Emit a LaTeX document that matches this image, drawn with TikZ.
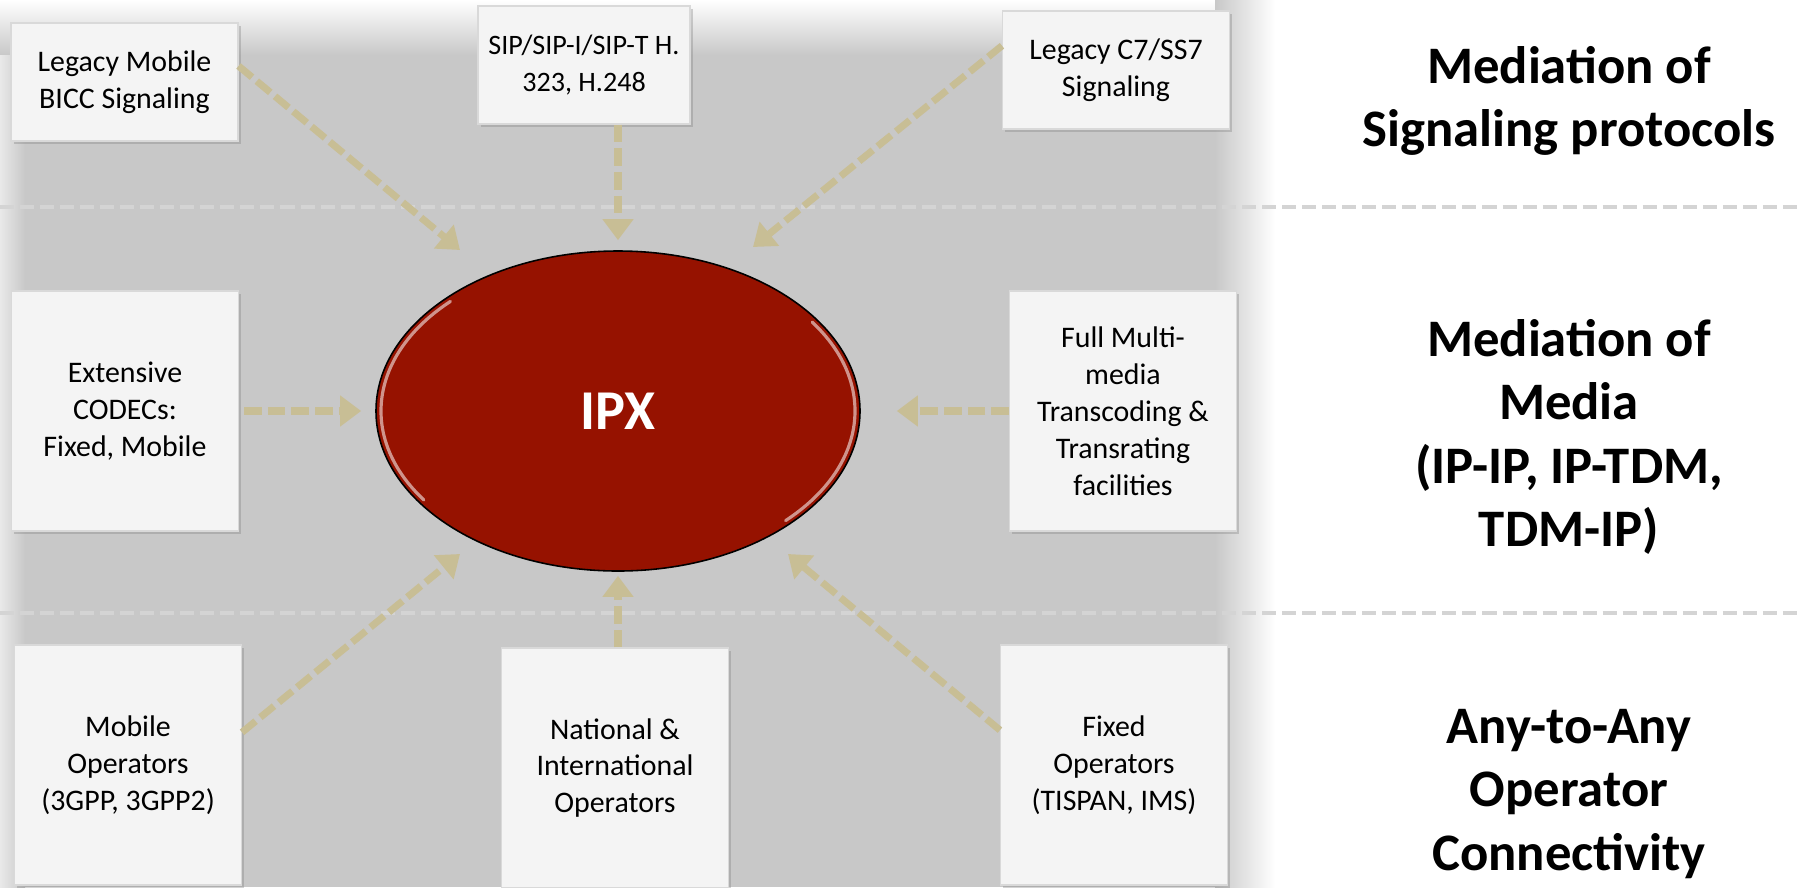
\documentclass[tikz,border=0pt]{standalone}
\usepackage{fontspec}
\setmainfont{Carlito}
\usetikzlibrary{arrows.meta, positioning, shapes.geometric, shadows}
\definecolor{IPXRED}{HTML}{961200}
\definecolor{ARRTAN}{HTML}{C8BE95}
\definecolor{BGGREY}{HTML}{C8C8C8}
\definecolor{SEPGREY}{HTML}{D4D4D4}
\definecolor{BOXFILL}{HTML}{F4F4F4}

\begin{document}
\begin{tikzpicture}[
        box/.style={fill=BOXFILL, draw=white!85!black, line width=0.6pt,
                    minimum width=4.54cm, minimum height=4.80cm, align=center,
                    font=\fontsize{17}{21}\selectfont, inner sep=2pt,
                    drop shadow={opacity=0.35, shadow xshift=1.5pt, shadow yshift=-1.5pt}},
        topbox/.style={box, minimum height=2.36cm},
        hub/.style={ellipse, fill=IPXRED, draw=black, line width=0.9pt,
                    minimum width=9.68cm, minimum height=6.40cm, inner sep=0pt,
                    text=white, font=\bfseries\fontsize{32}{38}\selectfont},
        shine/.style={white, opacity=0.55, line width=1.8pt, line cap=round},
        arr/.style={-{Triangle[length=12pt, width=17pt]}, line width=4pt, color=ARRTAN,
                    dash pattern=on 10pt off 3.5pt},
        sep/.style={SEPGREY, line width=2.3pt, dash pattern=on 8pt off 3.4pt},
        layer/.style={align=center, font=\bfseries\fontsize{30}{36}\selectfont}
      ]
        \useasboundingbox (0,0) rectangle (36.04,-17.74);
        % grey panel behind the diagram
        \fill[BGGREY] (0,-1.1) rectangle (24.3,-17.74);
        \shade[top color=white, bottom color=BGGREY] (0,0) rectangle (24.3,-1.1);
        \shade[left color=BGGREY, right color=white] (24.3,0) rectangle (25.5,-17.74);
        \shade[left color=white!60!BGGREY, right color=BGGREY] (0,-1.1) rectangle (0.5,-17.74);
        \draw[sep] (0,-4.14) -- (36.04,-4.14);
        \draw[sep] (0,-12.26) -- (36.04,-12.26);

        \node[hub] (ipx) at (12.36,-8.22) {IPX};
        % glossy rim on the two sides
        \draw[shine] (ipx.center) ++(135:4.74cm and 3.10cm) arc[start angle=135, end angle=215, x radius=4.74cm, y radius=3.10cm];
        \draw[shine] (ipx.center) ++(-45:4.74cm and 3.10cm) arc[start angle=-45, end angle=35, x radius=4.74cm, y radius=3.10cm];

        \node[topbox] (sig1) at (2.49,-1.64)  {Legacy Mobile\\BICC Signaling};
        \node[topbox, minimum width=4.24cm, font=\fontsize{16}{21}\selectfont] (sig2) at (11.68,-1.30) {SIP/SIP-I/SIP-T H.\\323, H.248};
        \node[topbox] (sig3) at (22.32,-1.40) {Legacy C7/SS7\\Signaling};
        \node[box] (med1) at (2.50,-8.22)  {Extensive\\CODECs:\\Fixed, Mobile};
        \node[box] (med2) at (22.46,-8.22) {Full Multi-\\media\\Transcoding \&\\Transrating\\facilities};
        \node[box] (op1) at (2.56,-15.30)  {Mobile\\Operators\\(3GPP, 3GPP2)};
        \node[box] (op2) at (12.30,-15.36) {National \&\\International\\Operators};
        \node[box] (op3) at (22.28,-15.30) {Fixed\\Operators\\(TISPAN, IMS)};

        \node[layer] (lsig) at (31.38,-2.02)  {Mediation of\\Signaling protocols};
        \node[layer] (lmed) at (31.38,-8.74)  {Mediation of\\Media\\(IP-IP, IP-TDM,\\TDM-IP)};
        \node[layer] (lops) at (31.38,-15.88) {Any-to-Any\\Operator\\Connectivity};

        \coordinate (t1) at (9.20,-5.00);
        \coordinate (t3) at (15.06,-4.94);
        \coordinate (t6) at (9.20,-11.08);
        \coordinate (t8) at (15.76,-11.08);

        \draw[arr] (sig1.8) -- (t1);
        \draw[arr, shorten >=0.2cm] (sig2.south -| ipx) -- (ipx.north);
        \draw[arr] (sig3.168) -- (t3);
        \draw[arr, shorten >=0.28cm, shorten <=0.1cm] (med1.east) -- (ipx.west);
        \draw[arr, shorten >=0.72cm] (med2.west) -- (ipx.east);
        \draw[arr] (op1.16) -- (t6);
        \draw[arr, shorten >=0.08cm] (op2.north -| ipx) -- (ipx.south);
        \draw[arr] (op3.163) -- (t8);
      \end{tikzpicture}
\end{document}
